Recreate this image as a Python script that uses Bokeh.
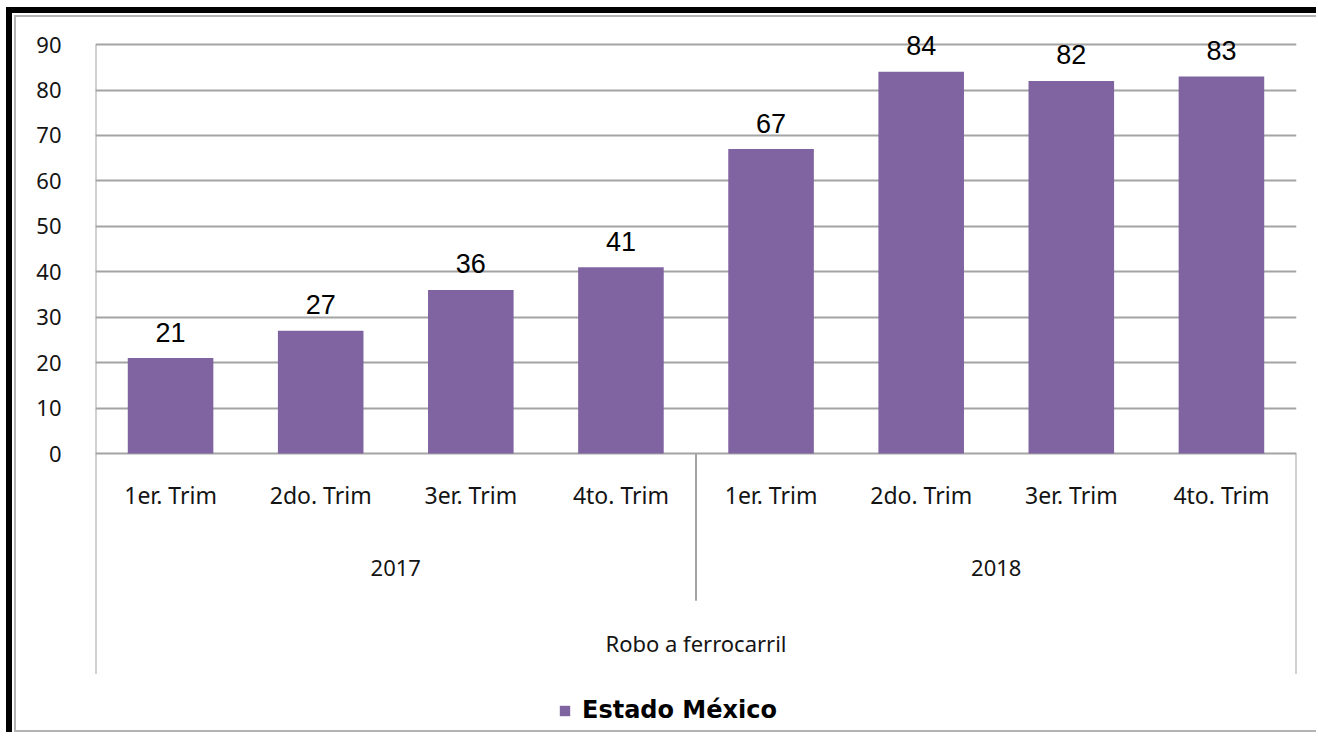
from bokeh.plotting import figure
from bokeh.layouts import column
from bokeh.models import (Range1d, FixedTicker, Legend, LegendItem,
                          ColumnDataSource)
from bokeh.core.properties import value
from bokeh.embed import file_html
from bokeh.resources import INLINE

# ---- data ----
series_name = "Estado México"
outer_label = "Robo a ferrocarril"
years = ["2017", "2017", "2017", "2017", "2018", "2018", "2018", "2018"]
quarters = ["1er. Trim", "2do. Trim", "3er. Trim", "4to. Trim",
            "1er. Trim", "2do. Trim", "3er. Trim", "4to. Trim"]
counts = [21, 27, 36, 41, 67, 84, 82, 83]
y_ticks = [0, 10, 20, 30, 40, 50, 60, 70, 80, 90]

BAR = "#8064A2"
GRID = "#a4a4a4"
TXT = "#141414"

W, H = 1300, 713
n = len(counts)
xs = [i + 0.5 for i in range(n)]

p = figure(width=W, height=H,
           x_range=Range1d(0, n), y_range=Range1d(-61.4, 95.3),
           output_backend="svg", toolbar_location=None,
           x_axis_location=None,
           min_border_left=79, min_border_right=22,
           min_border_top=3, min_border_bottom=2)
p.outline_line_color = None
p.background_fill_color = "white"
p.border_fill_color = "white"
p.xgrid.visible = False

ax = p.yaxis[0]
ax.ticker = FixedTicker(ticks=y_ticks)
ax.axis_line_color = None
ax.major_tick_line_color = None
ax.minor_tick_line_color = None
ax.major_label_standoff = 28
ax.major_label_text_font = "Noto Sans"
ax.major_label_text_font_size = "22px"
ax.major_label_text_color = TXT

p.ygrid.grid_line_color = GRID
p.ygrid.grid_line_width = 2

# bars
src = ColumnDataSource(dict(x=xs, top=counts, lab=[str(c) for c in counts]))
bars = p.vbar(x="x", top="top", bottom=0, width=0.57, source=src,
              fill_color=BAR, line_color=None)

# data labels
p.text(x="x", y="top", text="lab", source=src, y_offset=-26,
       text_align="center", text_baseline="middle",
       text_font=value("Liberation Sans"), text_font_size="27px",
       text_color="black")

# multi-level category axis (drawn with the plot's scales)
low = -48.5
mid = -32.4
p.segment(x0=[0, n / 2, n], x1=[0, n / 2, n],
          y0=[y_ticks[-1], 0, 0], y1=[low, mid, low],
          line_color=GRID, line_width=2)

p.text(x=xs, y=[-9.2] * n, text=quarters,
       text_align="center", text_baseline="middle",
       text_font=value("Noto Sans"), text_font_size="23px", text_color=TXT)

uniq_years = []
for yv in years:
    if yv not in uniq_years:
        uniq_years.append(yv)
year_x = []
for yv in uniq_years:
    idx = [i for i, v in enumerate(years) if v == yv]
    year_x.append(sum(idx) / len(idx) + 0.5)
p.text(x=year_x, y=[-25.1] * len(uniq_years), text=uniq_years,
       text_align="center", text_baseline="middle",
       text_font=value("Noto Sans"), text_font_size="22px", text_color=TXT)

p.text(x=[n / 2], y=[-41.6], text=[outer_label],
       text_align="center", text_baseline="middle",
       text_font=value("Noto Sans"), text_font_size="22px", text_color=TXT)

# legend
legend = Legend(items=[LegendItem(label=series_name, renderers=[bars])],
                location=(463, 8), orientation="horizontal",
                border_line_color=None, background_fill_alpha=0,
                padding=0, margin=0, spacing=0,
                glyph_width=13, glyph_height=13, label_standoff=11,
                label_height=20,
                label_text_font="DejaVu Sans", label_text_font_style="bold",
                label_text_font_size="24px", label_text_color="black")
p.add_layout(legend)

# chart-area frame: grey border inside a black top/left border
p.styles = {
    "box-sizing": "content-box",
    "overflow": "hidden",
    "margin-left": "2px",
    "margin-top": "2px",
    "border-top": "2px solid #b4b4b4",
    "border-left": "2px solid #b4b4b4",
    "border-bottom": "2px solid #b4b4b4",
}
page = column(p, styles={
    "box-sizing": "content-box",
    "overflow": "hidden",
    "margin-left": "6px",
    "margin-top": "7px",
    "border-top": "6px solid #000000",
    "border-left": "6px solid #000000",
})

open("out.html", "w").write(file_html(page, INLINE))
